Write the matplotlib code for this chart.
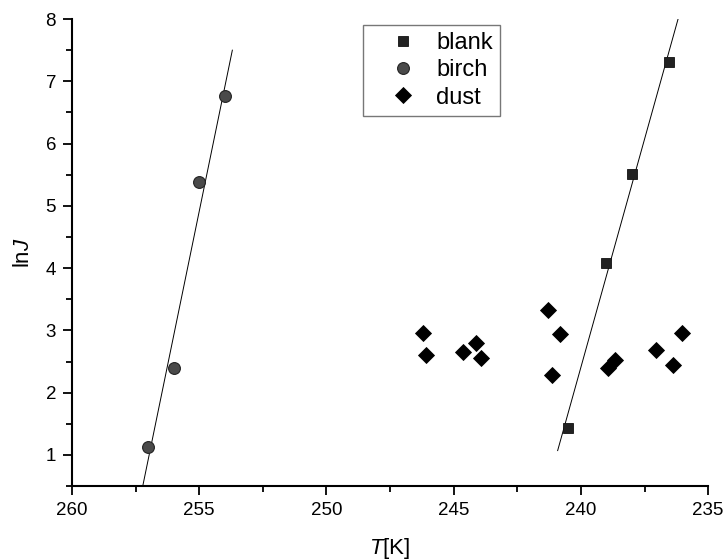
import numpy as np
import matplotlib
matplotlib.use("Agg")
import matplotlib.pyplot as plt
from matplotlib.ticker import MultipleLocator

plt.rcParams["font.family"] = ["Liberation Sans", "DejaVu Sans"]
plt.rcParams["mathtext.fontset"] = "custom"
plt.rcParams["mathtext.rm"] = "Liberation Sans"
plt.rcParams["mathtext.it"] = "Liberation Sans:italic"

# blank (squares)
blank_T = [236.52, 238.0, 239.01, 240.52]
blank_lnJ = [7.31, 5.51, 4.09, 1.44]
blank_fit_y = [1.07, 8.0]

# birch (circles)
birch_T = [254.0, 255.0, 256.0, 257.0]
birch_lnJ = [6.76, 5.39, 2.40, 1.13]
birch_fit_y = [0.5, 7.5]

# dust (diamonds)
dust_T = [246.21, 246.1, 244.64, 244.11, 243.92, 241.29, 240.81, 241.12,
          238.67, 238.93, 237.03, 236.4, 236.01]
dust_lnJ = [2.96, 2.61, 2.66, 2.79, 2.55, 3.33, 2.94, 2.29,
            2.53, 2.39, 2.68, 2.44, 2.96]


def fit_line(T, y, y_range):
    k, b = np.polyfit(T, y, 1)
    ys = np.array(y_range)
    return (ys - b) / k, ys


fig = plt.figure(figsize=(7.26, 5.6), dpi=100)
ax = fig.add_axes([0.0992, 0.132, 0.8762, 0.834])

tx, ty = fit_line(blank_T, blank_lnJ, blank_fit_y)
ax.plot(tx, ty, color="black", lw=0.7)
tx, ty = fit_line(birch_T, birch_lnJ, birch_fit_y)
ax.plot(tx, ty, color="black", lw=0.7)

ax.plot(blank_T, blank_lnJ, ls="none", marker="s", ms=7.5, mfc="#222222",
        mec="#111111", mew=0.6, label="blank")
ax.plot(birch_T, birch_lnJ, ls="none", marker="o", ms=8.5, mfc="#4a4a4a",
        mec="#222222", mew=0.8, label="birch")
ax.plot(dust_T, dust_lnJ, ls="none", marker="D", ms=8.5, mfc="black",
        mec="black", mew=0.6, label="dust")

ax.set_xlim(260, 235)
ax.set_ylim(0.5, 8)
ax.xaxis.set_major_locator(MultipleLocator(5))
ax.xaxis.set_minor_locator(MultipleLocator(2.5))
ax.yaxis.set_major_locator(MultipleLocator(1))
ax.yaxis.set_minor_locator(MultipleLocator(0.5))

for s in ("top", "right"):
    ax.spines[s].set_visible(False)
for s in ("left", "bottom"):
    ax.spines[s].set_linewidth(1.5)
ax.tick_params(which="major", direction="out", length=6.5, width=1.3,
               labelsize=13.5, pad=5)
ax.tick_params(which="minor", direction="out", length=4, width=1.3)

ax.set_xlabel("$\\mathit{T}$[K]", fontsize=16, labelpad=12)
ax.set_ylabel("ln$\\mathit{J}$", fontsize=16, labelpad=8)

ax.legend(loc="upper left", bbox_to_anchor=(0.4575, 0.987), borderaxespad=0,
          fontsize=17, frameon=True, fancybox=False, edgecolor="#555555",
          handlelength=2.8, handletextpad=0.0, labelspacing=0.22, borderpad=0.3)

fig.savefig("out.png", dpi=100)
